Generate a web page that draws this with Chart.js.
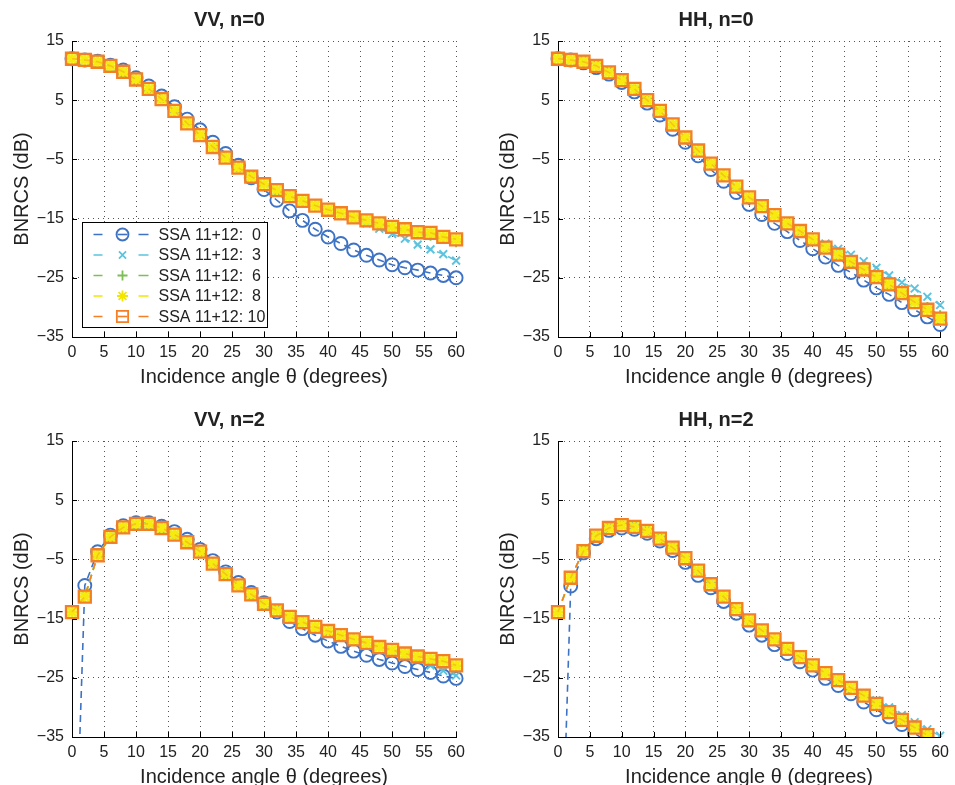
<!DOCTYPE html>
<html>
<head>
<meta charset="utf-8">
<script src="https://cdn.jsdelivr.net/npm/chart.js@4.4.0/dist/chart.umd.min.js"></script>
<style>
html, body { margin: 0; padding: 0; background: #fff; overflow: hidden; }
#fig { position: relative; width: 955px; height: 785px; }
canvas { position: absolute; }
</style>
</head>
<body>
<div id="fig">
  <canvas id="vv0" width="471" height="391" style="left:0px;top:0px"></canvas>
  <canvas id="hh0" width="469" height="391" style="left:486px;top:0px"></canvas>
  <canvas id="vv2" width="471" height="391" style="left:0px;top:400px"></canvas>
  <canvas id="hh2" width="469" height="391" style="left:486px;top:400px"></canvas>
</div>
<script>
// incidence angles (degrees)
const angles = [0, 2, 4, 6, 8, 10, 12, 14, 16, 18, 20, 22, 24, 26, 28, 30,
                32, 34, 36, 38, 40, 42, 44, 46, 48, 50, 52, 54, 56, 58, 60];

const seriesLabels = ['SSA 11+12:  0', 'SSA 11+12:  3', 'SSA 11+12:  6', 'SSA 11+12:  8', 'SSA 11+12: 10'];

// VV, n=0
const vv0_ssa0  = [12.0, 11.8, 11.6, 10.9, 10.1, 8.8, 7.4, 5.7, 3.9, 1.8, 0.0, -2.1, -4.0, -6.0, -8.1, -10.1,
                   -11.9, -13.7, -15.3, -16.8, -18.1, -19.2, -20.3, -21.2, -22.0, -22.8, -23.3, -23.7, -24.2, -24.6, -25.0];
const vv0_ssa3  = [12.0, 11.8, 11.5, 10.8, 9.8, 8.5, 6.9, 5.2, 3.2, 1.1, -0.9, -2.9, -4.7, -6.4, -7.9, -9.2,
                   -10.2, -11.2, -12.0, -12.8, -13.5, -14.1, -15.0, -15.8, -16.7, -17.6, -18.4, -19.4, -20.2, -21.0, -22.1];
const vv0_ssa6  = [12.0, 11.8, 11.5, 10.8, 9.8, 8.5, 6.9, 5.2, 3.2, 1.1, -0.9, -2.9, -4.7, -6.4, -7.9, -9.2,
                   -10.2, -11.2, -12.0, -12.8, -13.5, -14.1, -14.8, -15.3, -15.9, -16.5, -17.0, -17.5, -17.8, -18.3, -18.9];
const vv0_ssa8  = [12.0, 11.8, 11.5, 10.8, 9.8, 8.5, 6.9, 5.2, 3.2, 1.1, -0.9, -2.9, -4.7, -6.4, -7.9, -9.2,
                   -10.2, -11.2, -12.0, -12.8, -13.5, -14.1, -14.8, -15.3, -15.8, -16.4, -16.8, -17.3, -17.4, -18.1, -18.5];
const vv0_ssa10 = [12.0, 11.8, 11.5, 10.8, 9.8, 8.5, 6.9, 5.2, 3.2, 1.1, -0.9, -2.9, -4.7, -6.4, -7.9, -9.2,
                   -10.2, -11.2, -12.0, -12.8, -13.5, -14.1, -14.8, -15.3, -15.8, -16.4, -16.8, -17.3, -17.4, -18.1, -18.5];

// HH, n=0
const hh0_ssa0  = [12.0, 11.8, 11.3, 10.5, 9.4, 8.0, 6.4, 4.5, 2.5, 0.1, -2.1, -4.4, -6.7, -8.7, -10.6, -12.6,
                   -14.3, -15.8, -17.2, -18.7, -20.1, -21.5, -22.9, -24.1, -25.4, -26.7, -27.8, -29.2, -30.4, -31.6, -32.9];
const hh0_ssa3  = [12.0, 11.8, 11.5, 10.8, 9.7, 8.4, 6.9, 5.0, 3.2, 0.9, -1.3, -3.5, -5.7, -7.7, -9.6, -11.4,
                   -12.9, -14.4, -15.8, -17.1, -18.5, -19.2, -20.1, -21.1, -22.2, -23.3, -24.6, -25.8, -26.8, -28.2, -29.6];
const hh0_ssa6  = [12.0, 11.8, 11.5, 10.8, 9.7, 8.4, 6.9, 5.0, 3.2, 0.9, -1.3, -3.5, -5.7, -7.7, -9.6, -11.4,
                   -12.9, -14.4, -15.8, -17.1, -18.5, -19.8, -21.0, -22.1, -23.3, -24.6, -25.8, -27.2, -28.7, -30.0, -31.4];
const hh0_ssa8  = [12.0, 11.8, 11.5, 10.8, 9.7, 8.4, 6.9, 5.0, 3.2, 0.9, -1.3, -3.5, -5.7, -7.7, -9.6, -11.4,
                   -12.9, -14.4, -15.8, -17.1, -18.5, -19.9, -21.1, -22.3, -23.6, -24.9, -26.1, -27.6, -29.1, -30.4, -31.9];
const hh0_ssa10 = [12.0, 11.8, 11.5, 10.8, 9.7, 8.4, 6.9, 5.0, 3.2, 0.9, -1.3, -3.5, -5.7, -7.7, -9.6, -11.4,
                   -12.9, -14.4, -15.8, -17.1, -18.5, -19.9, -21.1, -22.3, -23.6, -24.9, -26.1, -27.6, -29.1, -30.4, -31.9];

// VV, n=2
const vv2_ssa0  = [-75.0, -9.4, -3.7, -0.9, 0.7, 1.2, 1.2, 0.6, -0.3, -1.6, -3.3, -5.2, -7.1, -8.9, -10.6, -12.3,
                   -13.9, -15.5, -16.7, -17.8, -18.8, -19.7, -20.5, -21.2, -21.9, -22.5, -23.1, -23.6, -24.1, -24.7, -25.1];
const vv2_ssa3  = [-13.9, -11.3, -4.3, -1.2, 0.4, 1.0, 1.0, 0.3, -0.8, -2.1, -3.7, -5.7, -7.5, -9.4, -10.9, -12.5,
                   -13.6, -14.7, -15.6, -16.4, -17.1, -17.8, -18.5, -19.1, -19.8, -20.4, -21.1, -21.8, -22.9, -23.8, -24.6];
const vv2_ssa6  = [-13.9, -11.3, -4.3, -1.2, 0.4, 1.0, 1.0, 0.3, -0.8, -2.1, -3.7, -5.7, -7.5, -9.4, -10.9, -12.5,
                   -13.6, -14.7, -15.6, -16.4, -17.1, -17.8, -18.5, -19.1, -19.8, -20.3, -20.9, -21.4, -21.8, -22.3, -23.0];
const vv2_ssa8  = [-13.9, -11.3, -4.3, -1.2, 0.4, 1.0, 1.0, 0.3, -0.8, -2.1, -3.7, -5.7, -7.5, -9.4, -10.9, -12.5,
                   -13.6, -14.7, -15.6, -16.4, -17.1, -17.8, -18.5, -19.1, -19.8, -20.3, -20.9, -21.4, -21.8, -22.2, -22.9];
const vv2_ssa10 = [-13.9, -11.3, -4.3, -1.2, 0.4, 1.0, 1.0, 0.3, -0.8, -2.1, -3.7, -5.7, -7.5, -9.4, -10.9, -12.5,
                   -13.6, -14.7, -15.6, -16.4, -17.1, -17.8, -18.5, -19.1, -19.8, -20.3, -20.9, -21.4, -21.8, -22.2, -22.9];

// HH, n=2
const hh2_ssa0  = [-78.0, -9.5, -3.9, -1.5, -0.1, 0.3, 0.1, -0.6, -1.9, -3.5, -5.5, -7.7, -9.8, -12.1, -14.1, -16.1,
                   -17.8, -19.4, -20.9, -22.3, -23.7, -25.1, -26.3, -27.7, -29.1, -30.4, -31.6, -32.9, -34.4, -35.8, -37.0];
const hh2_ssa3  = [-13.9, -8.1, -3.6, -1.0, 0.3, 0.8, 0.5, -0.2, -1.5, -3.0, -4.8, -6.9, -9.2, -11.3, -13.4, -15.3,
                   -17.0, -18.5, -20.1, -21.5, -22.9, -24.2, -25.4, -26.6, -27.6, -28.8, -30.0, -31.3, -32.5, -33.7, -34.8];
const hh2_ssa6  = [-13.9, -8.1, -3.6, -1.0, 0.3, 0.8, 0.5, -0.2, -1.5, -3.0, -4.8, -6.9, -9.2, -11.3, -13.4, -15.3,
                   -17.0, -18.5, -20.1, -21.5, -22.9, -24.2, -25.4, -26.7, -27.9, -29.2, -30.6, -31.9, -33.2, -34.5, -36.0];
const hh2_ssa8  = [-13.9, -8.1, -3.6, -1.0, 0.3, 0.8, 0.5, -0.2, -1.5, -3.0, -4.8, -6.9, -9.2, -11.3, -13.4, -15.3,
                   -17.0, -18.5, -20.1, -21.5, -22.9, -24.2, -25.4, -26.7, -28.0, -29.4, -30.8, -32.1, -33.4, -34.7, -36.4];
const hh2_ssa10 = [-13.9, -8.1, -3.6, -1.0, 0.3, 0.8, 0.5, -0.2, -1.5, -3.0, -4.8, -6.9, -9.2, -11.3, -13.4, -15.3,
                   -17.0, -18.5, -20.1, -21.5, -22.9, -24.2, -25.4, -26.7, -28.0, -29.4, -30.8, -32.1, -33.4, -34.7, -36.4];

const colors  = ['#3D72C4', '#5CC3DE', '#7DBE55', '#F2E600', '#F37F27'];
const markers = ['circle', 'crossRot', 'cross', 'star', 'rect'];
const radii   = [6.5, 5.5, 5.5, 6, 8.5];
const widths  = [1.9, 1.9, 1.9, 2.4, 2.3];
// the yellow stars fill the orange squares in the original, a light yellow fill gives the same look
const fills   = ['rgba(0,0,0,0)', 'rgba(0,0,0,0)', 'rgba(0,0,0,0)', 'rgba(0,0,0,0)', 'rgba(248,238,20,0.6)'];

const FONT = "'Liberation Sans', Arial, Helvetica, sans-serif";

function fmt(v) {
  return v < 0 ? '\u2212' + Math.abs(v) : String(v);
}

// marker for the legend, same look as the chart points
function drawMarker(ctx, style, x, y, r) {
  const d = r * Math.SQRT1_2;
  ctx.beginPath();
  if (style === 'circle') {
    ctx.arc(x, y, r, 0, Math.PI * 2);
  } else if (style === 'rect') {
    ctx.rect(x - d, y - d, 2 * d, 2 * d);
  } else {
    if (style === 'cross' || style === 'star') {
      ctx.moveTo(x - r, y); ctx.lineTo(x + r, y);
      ctx.moveTo(x, y - r); ctx.lineTo(x, y + r);
    }
    if (style === 'crossRot' || style === 'star') {
      ctx.moveTo(x - d, y - d); ctx.lineTo(x + d, y + d);
      ctx.moveTo(x - d, y + d); ctx.lineTo(x + d, y - d);
    }
  }
  ctx.stroke();
}

// MATLAB-like ticks pointing into the axes
const inTicks = {
  id: 'inTicks',
  afterDraw(chart) {
    const { ctx, chartArea: a, scales } = chart;
    ctx.save();
    ctx.strokeStyle = '#000';
    ctx.lineWidth = 1;
    ctx.beginPath();
    scales.x.ticks.forEach(t => {
      const px = Math.round(scales.x.getPixelForValue(t.value)) + 0.5;
      ctx.moveTo(px, a.bottom); ctx.lineTo(px, a.bottom - 5);
    });
    scales.y.ticks.forEach(t => {
      const py = Math.round(scales.y.getPixelForValue(t.value)) + 0.5;
      ctx.moveTo(a.left, py); ctx.lineTo(a.left + 5, py);
    });
    ctx.stroke();
    ctx.restore();
  }
};

const boxLegend = {
  id: 'boxLegend',
  afterDraw(chart, args, opts) {
    if (!opts.show) return;
    const { ctx, chartArea: a } = chart;
    const L = Math.round(a.left) + 10.5, T = Math.round(a.top) + 181.5;
    ctx.save();
    ctx.fillStyle = '#fff';
    ctx.fillRect(L, T, 185, 105);
    ctx.strokeStyle = '#000';
    ctx.lineWidth = 1;
    ctx.strokeRect(L, T, 185, 105);
    ctx.font = '16px ' + FONT;
    ctx.textBaseline = 'middle';
    chart.data.datasets.forEach((ds, i) => {
      const y = T + 12 + i * 20.5;
      ctx.strokeStyle = colors[i];
      ctx.lineWidth = 1.6;
      ctx.beginPath();
      ctx.moveTo(L + 11, y); ctx.lineTo(L + 20, y);
      ctx.moveTo(L + 56, y); ctx.lineTo(L + 66, y);
      ctx.stroke();
      if (i === 0 || i === 4) {
        ctx.beginPath();
        ctx.moveTo(L + 35, y); ctx.lineTo(L + 45, y);
        ctx.stroke();
      }
      ctx.lineWidth = 1.8;
      drawMarker(ctx, markers[i], L + 40, y, radii[i] - 0.5);
      ctx.fillStyle = '#222';
      ctx.fillText(ds.label, L + 76, y + 1);
    });
    ctx.restore();
  }
};

function makeChart(id, title, series, padRight, legend) {
  const datasets = series.map((vals, i) => ({
    label: seriesLabels[i],
    data: vals.map((v, j) => ({ x: angles[j], y: v })),
    borderColor: colors[i],
    backgroundColor: 'rgba(0,0,0,0)',
    borderWidth: 1.6,
    borderDash: [7, 5],
    pointStyle: markers[i],
    pointRadius: radii[i],
    pointBorderWidth: widths[i],
    pointBorderColor: colors[i],
    pointBackgroundColor: fills[i],
    tension: 0,
    order: 4 - i,
    clip: { left: 12, right: 12, top: 12, bottom: 0 }
  }));

  return new Chart(document.getElementById(id), {
    type: 'line',
    data: { datasets },
    options: {
      responsive: false,
      animation: false,
      events: [],
      layout: { padding: { left: 0, right: padRight, top: 0, bottom: 0 } },
      plugins: {
        legend: { display: false },
        tooltip: { enabled: false },
        title: {
          display: true,
          text: title,
          color: '#222',
          font: { family: FONT, size: 20, weight: 'bold' },
          padding: { top: 8, bottom: 9 }
        },
        boxLegend: { show: legend }
      },
      scales: {
        x: {
          type: 'linear',
          min: 0, max: 60,
          ticks: {
            stepSize: 5, padding: 6, maxRotation: 0, autoSkip: false,
            color: '#222', font: { family: FONT, size: 16 }
          },
          grid: { color: '#555', lineWidth: 1, drawTicks: false },
          border: { display: true, color: '#000', width: 1, dash: [1, 4] },
          title: {
            display: true,
            text: 'Incidence angle \u03B8 (degrees)',
            color: '#222',
            font: { family: FONT, size: 20 },
            padding: { top: 0, bottom: 2 }
          },
          afterFit: s => { s.height = 54; }
        },
        y: {
          min: -35, max: 15,
          ticks: {
            stepSize: 10, padding: 8,
            color: '#222', font: { family: FONT, size: 16 },
            callback: v => fmt(v)
          },
          grid: { color: '#555', lineWidth: 1, drawTicks: false },
          border: { display: true, color: '#000', width: 1, dash: [1, 4] },
          title: {
            display: true,
            text: 'BNRCS (dB)',
            color: '#222',
            font: { family: FONT, size: 20 },
            padding: { top: 10, bottom: 0 }
          },
          afterFit: s => { s.width = 72; }
        }
      }
    },
    plugins: [inTicks, boxLegend]
  });
}

makeChart('vv0', 'VV, n=0', [vv0_ssa0, vv0_ssa3, vv0_ssa6, vv0_ssa8, vv0_ssa10], 12, true);
makeChart('hh0', 'HH, n=0', [hh0_ssa0, hh0_ssa3, hh0_ssa6, hh0_ssa8, hh0_ssa10], 9, false);
makeChart('vv2', 'VV, n=2', [vv2_ssa0, vv2_ssa3, vv2_ssa6, vv2_ssa8, vv2_ssa10], 12, false);
makeChart('hh2', 'HH, n=2', [hh2_ssa0, hh2_ssa3, hh2_ssa6, hh2_ssa8, hh2_ssa10], 9, false);
</script>
</body>
</html>
